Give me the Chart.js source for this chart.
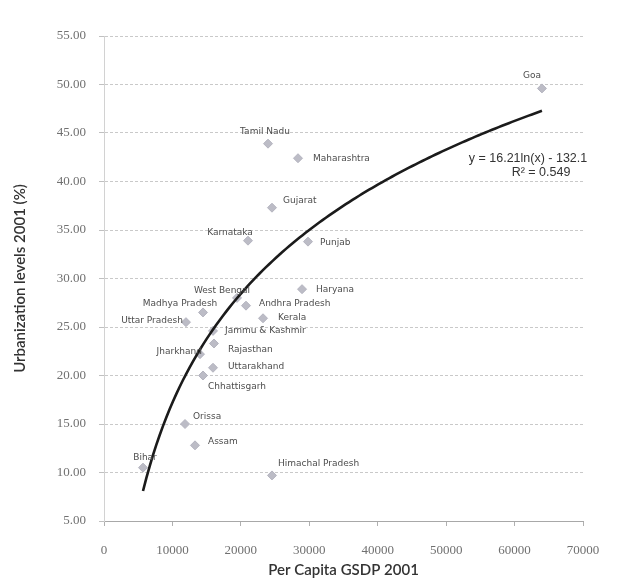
<!DOCTYPE html>
<html>
<head>
<meta charset="utf-8">
<script src="https://cdn.jsdelivr.net/npm/chart.js@4.4.1/dist/chart.umd.min.js"></script>
<style>
  html, body { margin: 0; padding: 0; background: #ffffff; }
  #wrap { width: 617px; height: 580px; }
</style>
</head>
<body>
<div id="wrap"><canvas id="c" width="617" height="580"></canvas></div>
<script>
// States of India, 2001: per capita GSDP (Rs) against urbanization level (%)
const states = [
  'Goa', 'Tamil Nadu', 'Maharashtra', 'Gujarat', 'Karnataka', 'Punjab', 'Haryana',
  'West Bengal', 'Andhra Pradesh', 'Madhya Pradesh', 'Kerala', 'Uttar Pradesh',
  'Jammu & Kashmir', 'Rajasthan', 'Jharkhand', 'Uttarakhand', 'Chhattisgarh',
  'Orissa', 'Assam', 'Bihar', 'Himachal Pradesh'
];
const gsdpPerCapita = [
  64000, 23970, 28350, 24550, 21040, 29810, 28940,
  19440, 20750, 14470, 23240, 11980,
  15930, 16070, 14030, 15930, 14470,
  11840, 13300, 5700, 24550
];
const urbanization = [
  49.6, 43.9, 42.4, 37.3, 33.9, 33.8, 28.9,
  28.0, 27.2, 26.5, 25.9, 25.5,
  24.6, 23.3, 22.2, 20.8, 20.0,
  15.0, 12.8, 10.5, 9.7
];

// Logarithmic trend line y = a*ln(x) + b and its fit
const trendA = 16.21;
const trendB = -132.1;
const trendR2 = 0.549;

// Axis ticks
const xTicks = [0, 10000, 20000, 30000, 40000, 50000, 60000, 70000];
const yTicks = [5, 10, 15, 20, 25, 30, 35, 40, 45, 50, 55];

// Where each state's name sits next to its marker: [dx, dy, textAlign]
const labelPlacement = [
  [-10, -13, 'center'], [-3, -12, 'center'], [15, 0, 'left'], [11, -7, 'left'],
  [-18, -8, 'center'], [12, 1, 'left'], [14, 0, 'left'],
  [-15, -7, 'center'], [13, -2, 'left'], [-23, -9, 'center'], [15, -1, 'left'],
  [-3, -1, 'right'],
  [12, 0, 'left'], [14, 6, 'left'], [2, -3, 'right'], [15, -1, 'left'],
  [5, 11, 'left'],
  [8, -7, 'left'], [13, -4, 'left'], [2, -10, 'center'], [6, -12, 'left']
];

const points = states.map((s, i) => ({ x: gsdpPerCapita[i], y: urbanization[i] }));

// Trend curve sampled across the observed GSDP range
const xLo = Math.min(...gsdpPerCapita);
const xHi = Math.max(...gsdpPerCapita);
const trendPoints = [];
for (let k = 0; k <= 120; k++) {
  const x = xLo + (xHi - xLo) * k / 120;
  trendPoints.push({ x: x, y: trendA * Math.log(x) + trendB });
}

const stateLabels = {
  id: 'stateLabels',
  afterDatasetsDraw(chart) {
    const ctx = chart.ctx;
    const meta = chart.getDatasetMeta(1);
    ctx.save();
    ctx.font = '9px "DejaVu Sans"';
    ctx.fillStyle = '#4d4d4d';
    ctx.textBaseline = 'middle';
    meta.data.forEach((el, i) => {
      const [dx, dy, align] = labelPlacement[i];
      ctx.textAlign = align;
      ctx.fillText(states[i], el.x + dx, el.y + dy);
    });
    // trend equation
    const a = chart.chartArea;
    ctx.font = '12.5px "Liberation Sans"';
    ctx.fillStyle = '#333333';
    ctx.textAlign = 'center';
    ctx.fillText('y = ' + trendA.toFixed(2) + 'ln(x) - ' + Math.abs(trendB).toFixed(1), a.right - 55, a.top + 123);
    ctx.fillText('R\u00b2 = ' + trendR2.toFixed(3), a.right - 42, a.top + 137);
    ctx.restore();
  }
};

new Chart(document.getElementById('c'), {
  type: 'scatter',
  data: {
    datasets: [
      {
        label: 'Log. trend',
        data: trendPoints,
        showLine: true,
        pointRadius: 0,
        borderColor: '#1b1b1b',
        borderWidth: 2.6,
        tension: 0,
        order: 0
      },
      {
        label: 'States',
        data: points,
        pointStyle: 'rectRot',
        pointRadius: 4.5,
        pointBackgroundColor: '#bcbcc6',
        pointBorderColor: '#b4b4bf',
        pointBorderWidth: 1,
        order: 1
      }
    ]
  },
  options: {
    responsive: false,
    animation: false,
    layout: { padding: { top: 36, right: 34, bottom: 0, left: 0 } },
    plugins: {
      legend: { display: false },
      tooltip: { enabled: false }
    },
    scales: {
      x: {
        type: 'linear',
        min: xTicks[0],
        max: xTicks[xTicks.length - 1],
        afterFit(scale) { scale.height = 59; },
        afterBuildTicks(scale) { scale.ticks = xTicks.map(v => ({ value: v })); },
        ticks: {
          padding: 17,
          color: '#707070',
          font: { family: '"Liberation Serif"', size: 13 },
          callback: v => String(v)
        },
        grid: {
          drawOnChartArea: false,
          drawTicks: true,
          tickLength: 5,
          tickColor: '#b0b0b0'
        },
        border: { display: true, color: '#a8a8a8', width: 1 },
        title: {
          display: true,
          text: 'Per Capita GSDP 2001',
          color: '#333333',
          font: { family: 'Lato', size: 15, weight: '600' },
          padding: { top: 0, bottom: 1 }
        }
      },
      y: {
        type: 'linear',
        min: yTicks[0],
        max: yTicks[yTicks.length - 1],
        afterFit(scale) { scale.width = 104; },
        afterBuildTicks(scale) { scale.ticks = yTicks.map(v => ({ value: v })); },
        ticks: {
          padding: 13,
          color: '#707070',
          font: { family: '"Liberation Serif"', size: 13 },
          callback: v => Number(v).toFixed(2)
        },
        grid: {
          color: '#c9c9c9',
          lineWidth: 1,
          drawTicks: true,
          tickLength: 5,
          tickColor: '#c0c0c0'
        },
        border: { display: true, color: '#d2d2d2', width: 1, dash: [3, 2] },
        title: {
          display: true,
          text: 'Urbanization levels 2001 (%)',
          color: '#333333',
          font: { family: 'Lato', size: 15, weight: '600' },
          padding: { top: 11, bottom: 0 }
        }
      }
    }
  },
  plugins: [stateLabels]
});
</script>
</body>
</html>
